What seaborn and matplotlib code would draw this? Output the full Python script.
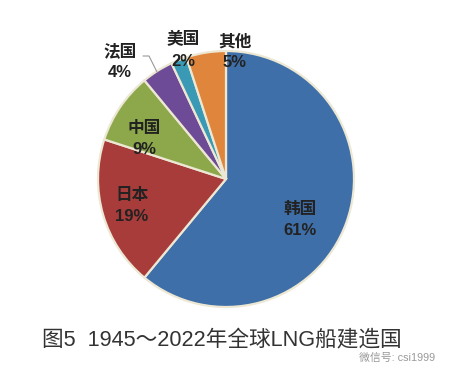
import matplotlib
matplotlib.use("Agg")
import matplotlib.pyplot as plt
import seaborn as sns

sns.set_theme(style="white")
plt.rcParams['font.family'] = ['Liberation Sans', 'Noto Sans CJK SC', 'DejaVu Sans']

countries = ["韩国", "日本", "中国", "法国", "美国", "其他"]
shares = [61, 19, 9, 4, 2, 5]
colors = ["#3F6FA8", "#A83C3A", "#8CA84A", "#6E4B97", "#3A9AB5", "#E0863C"]
title = "图5  1945～2022年全球LNG船建造国"
watermark = "微信号: csi1999"

# label centres in figure pixels
label_xy = [(300, 220), (132, 206), (144, 139), (120, 62), (183, 50), (235, 52)]

fig = plt.figure(figsize=(4.5, 3.78), dpi=100)
ax = fig.add_axes([0, 0, 1, 1])
# the y axis runs downwards, so a counter-clockwise sweep in data reads clockwise
ax.pie(shares, colors=sns.color_palette(colors), startangle=-90, counterclock=True,
       center=(226, 179), radius=128, frame=True,
       wedgeprops=dict(edgecolor="#EDE8D4", linewidth=1.6))
ax.set_xlim(0, 450)
ax.set_ylim(378, 0)
ax.set_aspect("equal")
ax.axis("off")

for name, val, (x, y) in zip(countries, shares, label_xy):
    ax.text(x, y, f"{name}\n{val}%", ha="center", va="center", fontsize=12,
            fontweight="bold", color="#222222", linespacing=1.5)

ax.plot([143, 149, 157], [56, 56, 72], color="#999999", lw=0.8)

ax.text(222, 340, title, ha="center", va="center", fontsize=15.6, color="#333333")
ax.text(397, 358, watermark, ha="center", va="center", fontsize=7.8, color="#999999")

fig.savefig("out.png", dpi=100)
